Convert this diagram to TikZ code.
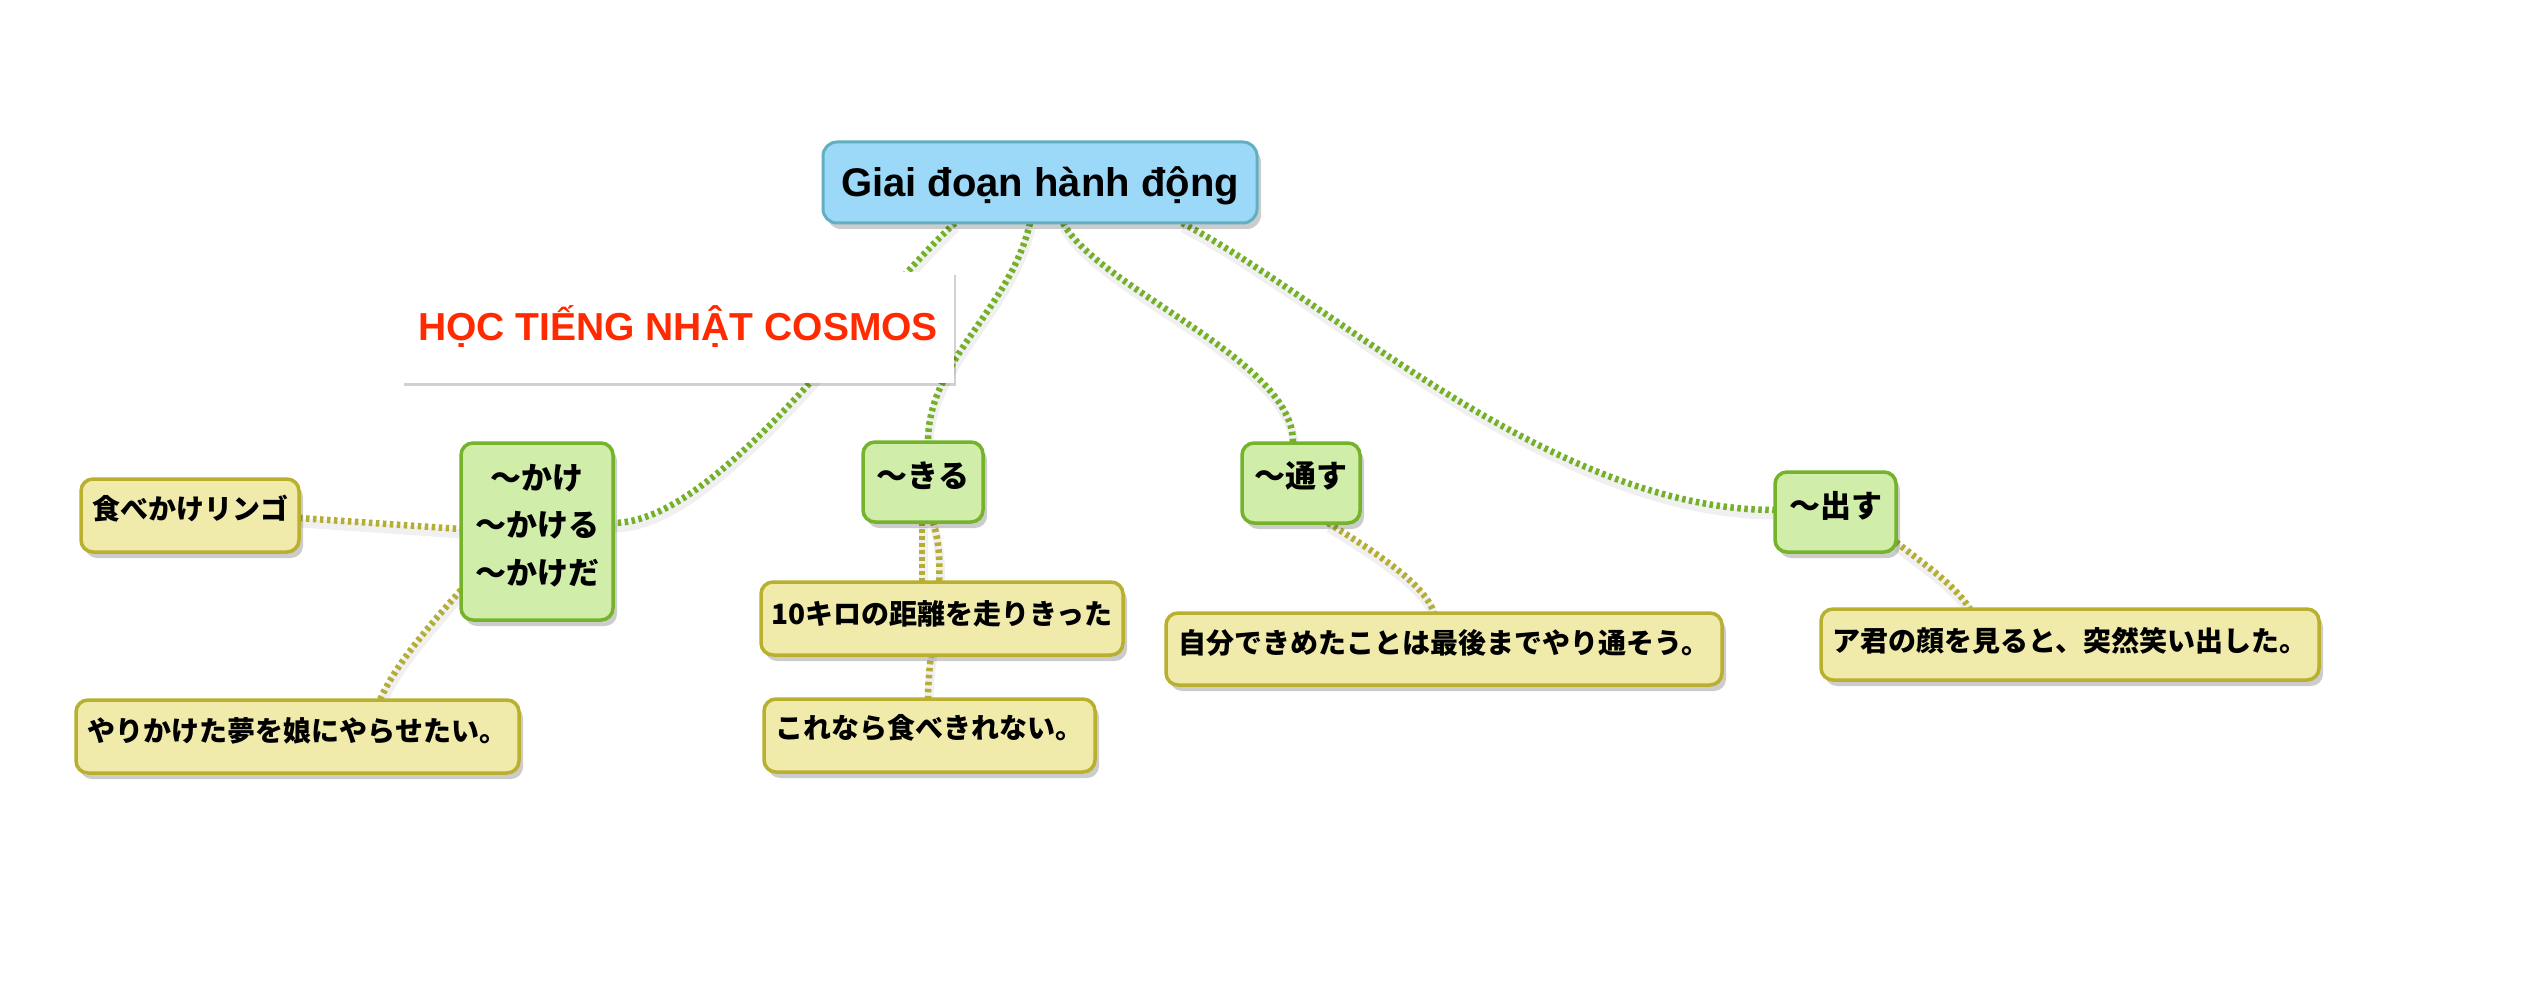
\documentclass[tikz,border=0pt]{standalone}
\usepackage{fontspec}
\setmainfont{Liberation Sans}
\newfontfamily\jpfont{Noto Sans CJK JP}
\usetikzlibrary{shadows,calc}
\definecolor{rfill}{HTML}{9CD8F7}
\definecolor{rborder}{HTML}{63AFC2}
\definecolor{gfill}{HTML}{D0EDAA}
\definecolor{gborder}{HTML}{74B32B}
\definecolor{yfill}{HTML}{F0EBAB}
\definecolor{yborder}{HTML}{B8B02E}
\definecolor{congreen}{HTML}{74B02A}
\definecolor{conyellow}{HTML}{B5AE34}
\definecolor{cred}{HTML}{FF2A00}
\pgfdeclarelayer{back}
\pgfdeclarelayer{bg}
\pgfsetlayers{back,bg,main}
\begin{document}
\begin{tikzpicture}[x=1pt,y=-1pt,
  boxbase/.style={draw, rounded corners=12pt, line width=3.5pt, inner xsep=0pt, inner ysep=0pt, outer sep=0pt, anchor=north west,
    drop shadow={shadow xshift=4pt, shadow yshift=-6pt, opacity=0.2, fill=black}},
  greenbox/.style={boxbase, fill=gfill, draw=gborder, font=\jpfont\bfseries\fontsize{31pt}{47.5pt}\selectfont, text height=45pt, text depth=35pt},
  yellowbox/.style={boxbase, fill=yfill, draw=yborder, font=\jpfont\bfseries\fontsize{28pt}{34pt}\selectfont, text height=41pt, text depth=32pt},
  conshadow/.style={preaction={draw=black, opacity=0.06, line width=9pt, solid, transform canvas={shift={(1pt,-5pt)}}}},
  gcon/.style={conshadow, draw=congreen, line width=6.5pt, dash pattern=on 3.5pt off 3.5pt},
  ycon/.style={conshadow, draw=conyellow, line width=6.5pt, dash pattern=on 3.5pt off 3.5pt}]
\useasboundingbox (0,0) rectangle (2540,1008);
\begin{pgfonlayer}{back}
\fill[white] (0,0) rectangle (2540,1008);
\end{pgfonlayer}

% root
\node[boxbase, fill=rfill, draw=rborder, rounded corners=14pt, line width=3pt, minimum width=434pt,
  font=\bfseries\fontsize{40pt}{48pt}\selectfont, text height=55pt, text depth=26pt] (root) at (823,142) {Giai đoạn hành động};

% title
\node[anchor=north west, fill=white, inner sep=0pt, outer sep=0pt, minimum width=552pt, text=cred,
  font=\bfseries\fontsize{39pt}{47pt}\selectfont, text height=68pt, text depth=43pt,
  drop shadow={shadow xshift=2pt, shadow yshift=-3pt, opacity=0.18, fill=black}] (title) at (402,272) {HỌC TIẾNG NHẬT COSMOS};

% green nodes
\node[greenbox, minimum width=152pt, align=center, text height=141pt, text depth=36pt] (kake) at (461,443) {〜かけ\\〜かける\\〜かけだ};
\node[greenbox, minimum width=120pt] (kiru) at (863,442) {〜きる};
\node[greenbox, minimum width=118pt, text height=44pt, text depth=36pt] (toosu) at (1242,443) {〜通す};
\node[greenbox, minimum width=121pt] (dasu) at (1775,472) {〜出す};

% yellow nodes
\node[yellowbox, minimum width=218pt, text height=40pt, text depth=33pt] (ringo) at (81,479) {食べかけリンゴ};
\node[yellowbox, minimum width=443pt] (yari) at (76,700) {やりかけた夢を娘にやらせたい。};
\node[yellowbox, minimum width=362pt, text height=42pt, text depth=31pt] (kiro) at (761,582) {10キロの距離を走りきった};
\node[yellowbox, minimum width=331pt, text height=39pt, text depth=34pt] (kore) at (764,699) {これなら食べきれない。};
\node[yellowbox, minimum width=556pt, text height=40pt, text depth=32pt] (jibun) at (1166,613) {自分できめたことは最後までやり通そう。};
\node[yellowbox, minimum width=498pt, text height=42pt, text depth=29pt] (akun) at (1821,609) {ア君の顔を見ると、突然笑い出した。};

\begin{pgfonlayer}{bg}
\draw[gcon] ($(root.south west)+(132,0)$) .. controls (870,300) and (720,523) .. ($(kake.north east)+(0,80)$);
\draw[gcon] ($(root.south west)+(207,0)$) .. controls (1010,310) and (928,360) .. ($(kiru.north west)+(65,0)$);
\draw[gcon] ($(root.south west)+(240,0)$) .. controls (1100,290) and (1295,360) .. ($(toosu.north west)+(51,0)$);
\draw[gcon] ($(root.south west)+(359,0)$) .. controls (1330,300) and (1550,510) .. ($(dasu.north west)+(0,38)$);

\draw[ycon] ($(ringo.north east)+(0,39)$) -- ($(kake.north west)+(0,86)$);
\draw[ycon] ($(kake.north west)+(0,147)$) .. controls (430,625) and (395,665) .. ($(yari.north west)+(304,0)$);
\draw[ycon] ($(kiru.south west)+(59,0)$) -- ($(kiro.north west)+(161,0)$);
\draw[ycon] ($(kiru.south west)+(70,0)$) .. controls (950,575) and (928,640) .. ($(kore.north west)+(164,0)$);
\draw[ycon] ($(toosu.south west)+(86,0)$) .. controls (1380,555) and (1425,585) .. ($(jibun.north west)+(268,0)$);
\draw[ycon] ($(dasu.south east)+(0,-10)$) .. controls (1925,565) and (1955,585) .. ($(akun.north west)+(149,0)$);
\end{pgfonlayer}
\end{tikzpicture}
\end{document}
